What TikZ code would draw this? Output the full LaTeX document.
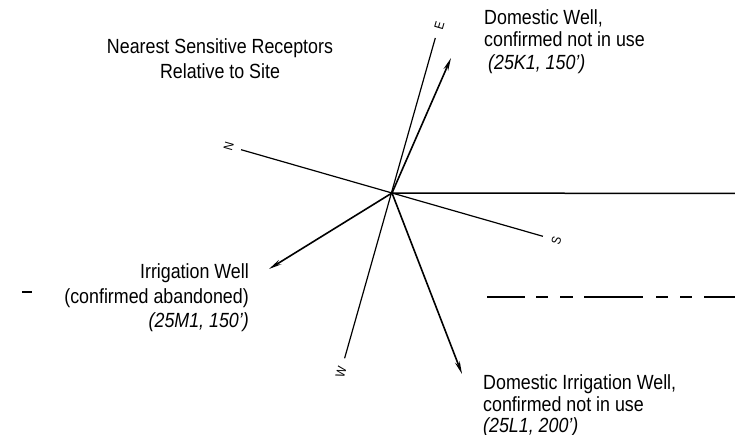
\documentclass[tikz,border=0pt]{standalone}
\usepackage{fontspec}
\setmainfont[FakeStretch=0.87]{Liberation Sans}
\usetikzlibrary{arrows.meta}
\begin{document}
\begin{tikzpicture}[x=1pt,y=-1pt,
  lbl/.style={font=\fontsize{20.5}{24}\selectfont, inner sep=0pt},
  ital/.style={font=\fontsize{20.5}{24}\selectfont\itshape, inner sep=0pt},
  axis/.style={line width=1.2pt},
  axlbl/.style={font=\fontsize{13}{13}\selectfont, rotate=74, inner sep=0pt},
  ptr/.style={line width=1.6pt, -{Stealth[length=13pt,width=5pt]}},
  lead/.style={line width=1.5pt}]
\useasboundingbox (0,0) rectangle (735,435);
% centre and axis ends
\coordinate (c) at (392,193);
\coordinate (eE) at (435.3,38.0);
\coordinate (eN) at (241.1,149.7);
\coordinate (eS) at (542.9,236.3);
\coordinate (eW) at (344.6,358.3);
\node[axlbl] (lE) at (439.4,26.0) {E};
\node[axlbl] (lN) at (228.6,146.1) {N};
\node[axlbl] (lS) at (556.4,241.0) {S};
\node[axlbl] (lW) at (341.0,372.0) {W};
\draw[axis] (eE) -- (eW);
\draw[axis] (eN) -- (eS);
% horizontal line to the right
\coordinate (hR) at (735,193.5);
\draw[lead] (c) -- (hR);
% dashed line
\foreach \a/\b in {487/525,536/548,560/573,584/643,656/668,680/692,704/735}
  \draw[lead] (\a,297) -- (\b,297);
\coordinate (dL) at (22,292);
\coordinate (dR) at (32,292);
\draw[line width=1.3pt] (dL) -- (dR);
% pointers
\coordinate (tDW) at (451,58);
\coordinate (tIW) at (269,269);
\coordinate (tDIW) at (462,374);
\draw[ptr] (c) -- (tDW);
\draw[ptr] (c) -- (tIW);
\draw[ptr] (c) -- (tDIW);
% title
\node[lbl, anchor=base] (t1) at (220,54) {Nearest Sensitive Receptors};
\node[lbl, anchor=base] (t2) at (220,79) {Relative to Site};
% domestic well
\node[lbl, anchor=base west] (dw1) at (484,25) {Domestic Well,};
\node[lbl, anchor=base west] (dw2) at (484,47) {confirmed not in use};
\node[ital, anchor=base west] (dw3) at (488,70) {(25K1, 150')};
% irrigation well
\node[lbl, anchor=base east] (iw1) at (249,278) {Irrigation Well};
\node[lbl, anchor=base east] (iw2) at (249,303) {(confirmed abandoned)};
\node[ital, anchor=base east] (iw3) at (249,327) {(25M1, 150')};
% domestic irrigation well
\node[lbl, anchor=base west] (di1) at (483,389) {Domestic Irrigation Well,};
\node[lbl, anchor=base west] (di2) at (483,411) {confirmed not in use};
\node[ital, anchor=base west] (di3) at (483,432) {(25L1, 200')};
\end{tikzpicture}
\end{document}
